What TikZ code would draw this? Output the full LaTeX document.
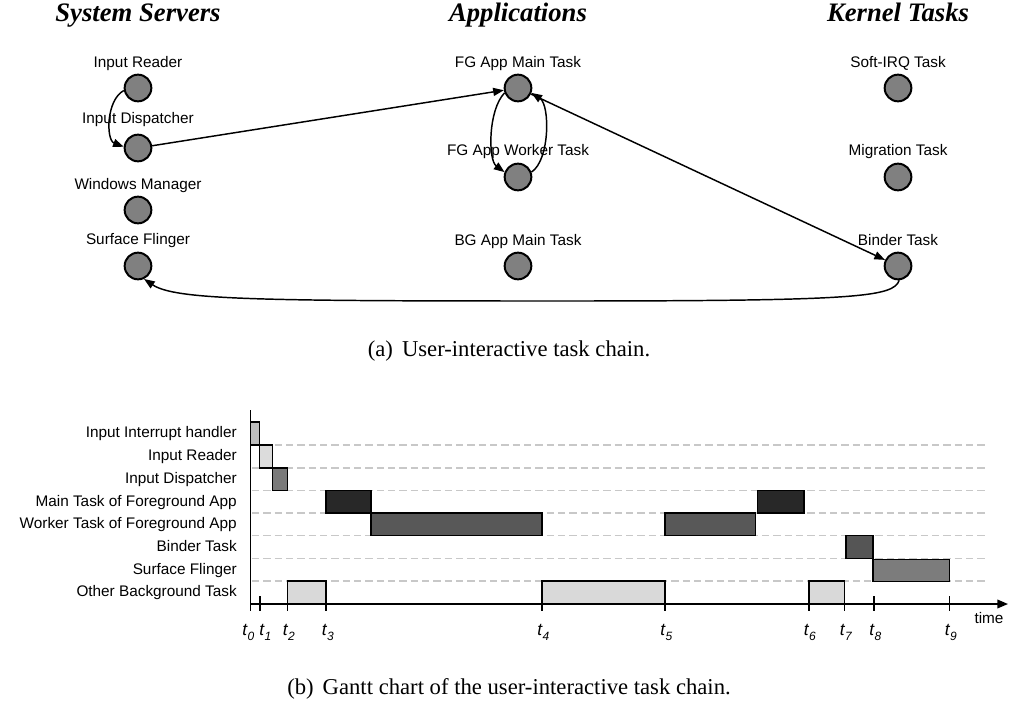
\documentclass[tikz,border=0pt]{standalone}
\usepackage{fontspec}
\setmainfont{Liberation Serif}
\setsansfont{Liberation Sans}
\usetikzlibrary{arrows.meta}

\definecolor{taskgray}{HTML}{808080}
\definecolor{irqfill}{HTML}{BDBDBD}
\definecolor{readerfill}{HTML}{DCDCDC}
\definecolor{dispfill}{HTML}{7A7A7A}
\definecolor{mainfill}{HTML}{282828}
\definecolor{workerfill}{HTML}{585858}
\definecolor{binderfill}{HTML}{555555}
\definecolor{flingerfill}{HTML}{7C7C7C}
\definecolor{bgfill}{HTML}{D9D9D9}
\definecolor{gridgray}{HTML}{C8C8C8}

% time instant label: italic t with a lowered italic index
\newcommand\tinstant[1]{\textit{t}\raisebox{-3.75pt}{\fontsize{9}{10}\selectfont\itshape #1}}

\begin{document}
\begin{tikzpicture}[x=0.75pt,y=-0.75pt,
  taskdot/.style={circle,draw=black,fill=taskgray,line width=1.5pt,minimum size=20pt,inner sep=0pt},
  tasklabel/.style={font=\sffamily\fontsize{11.5}{13}\selectfont,anchor=base,inner sep=0pt},
  grouptitle/.style={font=\bfseries\itshape\fontsize{20}{24}\selectfont,anchor=base,inner sep=0pt},
  capt/.style={font=\fontsize{17}{20}\selectfont,anchor=base,inner sep=0pt},
  flow/.style={line width=1.1pt,-{Triangle[length=8pt,width=6pt]}},
  rowlabel/.style={font=\sffamily\fontsize{11.5}{13}\selectfont,anchor=base east,inner sep=0pt},
  ganttgrid/.style={draw=gridgray,line width=1.1pt,dash pattern=on 5.5pt off 3pt},
  ganttbar/.style={draw=black,line width=1.1pt},
  timeaxis/.style={line width=1.1pt},
  tickmark/.style={line width=1.1pt},
  tmark/.style={font=\sffamily\fontsize{13}{15}\selectfont,anchor=base west,inner sep=0pt},
]
\useasboundingbox (0,0) rectangle (1009,713);

% ---------------- task chain ----------------
\node[grouptitle] (tss)  at (138,22) {System Servers};
\node[grouptitle] (tapp) at (518,22) {Applications};
\node[grouptitle] (tker) at (898,22) {Kernel Tasks};

% system servers
\node[taskdot] (ir) at (138,88) {};
\node[tasklabel] (irl) at (138,68) {Input Reader};
\node[taskdot] (id) at (138,148) {};
\node[tasklabel] (idl) at (138,124) {Input Dispatcher};
\node[taskdot] (wm) at (138,210) {};
\node[tasklabel] (wml) at (138,189) {Windows Manager};
\node[taskdot] (sf) at (138,266) {};
\node[tasklabel] (sfl) at (138,244) {Surface Flinger};

% applications
\node[taskdot] (fgm) at (518,88) {};
\node[tasklabel] (fgml) at (518,68) {FG App Main Task};
\node[taskdot] (fgw) at (518,177) {};
\node[tasklabel] (fgwl) at (518,156) {FG App Worker Task};
\node[taskdot] (bgm) at (518,266) {};
\node[tasklabel] (bgml) at (518,245) {BG App Main Task};

% kernel tasks
\node[taskdot] (irq) at (898,88) {};
\node[tasklabel] (irql) at (898,68) {Soft-IRQ Task};
\node[taskdot] (mig) at (898,177) {};
\node[tasklabel] (migl) at (898,156) {Migration Task};
\node[taskdot] (bt) at (898,266) {};
\node[tasklabel] (btl) at (898,245) {Binder Task};

% chain connectors
\draw[flow] (ir.190) .. controls (106,100) and (106,140) .. (id.175);
\draw[flow] (id) -- (fgm);
\draw[flow] (fgm.200) .. controls (488,110) and (488,160) .. (fgw.160);
\draw[flow] (fgw.20) .. controls (550,160) and (550,105) .. (fgm.340);
\draw[flow] (fgm) -- (bt);
\coordinate (sag) at (560,301);
\draw[flow] (bt.-85) .. controls (893,297) and (860,301) .. (sag)
            .. controls (260,301) and (175,300) .. (sf.-65);

\node[capt] (capa) at (509,356) {(a)\hspace{0.4em}User-interactive task chain.};

% ---------------- Gantt chart ----------------
% row separators
\foreach \y in {445,468,490.5,513,535.5,558.5,581}
  \draw[ganttgrid] (252,\y) -- (987,\y);

% row names
\node[rowlabel] (r1) at (237,437.5) {Input Interrupt handler};
\node[rowlabel] (r2) at (237,460.5) {Input Reader};
\node[rowlabel] (r3) at (237,483.5) {Input Dispatcher};
\node[rowlabel] (r4) at (237,506) {Main Task of Foreground App};
\node[rowlabel] (r5) at (237,528.5) {Worker Task of Foreground App};
\node[rowlabel] (r6) at (237,551) {Binder Task};
\node[rowlabel] (r7) at (237,574) {Surface Flinger};
\node[rowlabel] (r8) at (237,596.5) {Other Background Task};

% execution intervals
\draw[ganttbar,fill=irqfill]     (250.5,422) rectangle (259.5,445);
\draw[ganttbar,fill=readerfill]  (259.5,445) rectangle (272.5,468);
\draw[ganttbar,fill=dispfill]    (272.5,468) rectangle (287.5,490.5);
\draw[ganttbar,fill=bgfill]      (287.5,581) rectangle (326,604);
\draw[ganttbar,fill=mainfill]    (326,490.5) rectangle (371,513);
\draw[ganttbar,fill=workerfill]  (371,513) rectangle (542,535.5);
\draw[ganttbar,fill=bgfill]      (542,581) rectangle (665,604);
\draw[ganttbar,fill=workerfill]  (665,513) rectangle (755.5,535.5);
\draw[ganttbar,fill=mainfill]    (757.5,490.5) rectangle (804,513);
\draw[ganttbar,fill=bgfill]      (809,581) rectangle (844.5,604);
\draw[ganttbar,fill=binderfill]  (846,535.5) rectangle (873,558.5);
\draw[ganttbar,fill=flingerfill] (873,559.5) rectangle (949.5,581.5);

% axes
\coordinate (vtop) at (250.5,410);
\coordinate (vbot) at (250.5,611);
\coordinate (origin) at (250.5,604);
\coordinate (tend) at (1008,604);
\draw[timeaxis] (vtop) -- (vbot);
\draw[timeaxis,-{Triangle[length=8pt,width=6.5pt]}] (origin) -- (tend);
\node[font=\sffamily\fontsize{11.5}{13}\selectfont,anchor=base,inner sep=0pt] (timel) at (989,623) {time};

% instants
\foreach \x in {260,287.5,326,542,665,809,844.5,874,949.5}
  \draw[tickmark] (\x,596) -- (\x,611);

\node[tmark] (t0) at (242,635) {\tinstant{0}};
\node[tmark] (t1) at (259,635) {\tinstant{1}};
\node[tmark] (t2) at (282.5,635) {\tinstant{2}};
\node[tmark] (t3) at (321.5,635) {\tinstant{3}};
\node[tmark] (t4) at (537,635) {\tinstant{4}};
\node[tmark] (t5) at (660,635) {\tinstant{5}};
\node[tmark] (t6) at (803.5,635) {\tinstant{6}};
\node[tmark] (t7) at (839.5,635) {\tinstant{7}};
\node[tmark] (t8) at (869,635) {\tinstant{8}};
\node[tmark] (t9) at (944.5,635) {\tinstant{9}};

\node[capt] (capb) at (509,694) {(b)\hspace{0.4em}Gantt chart of the user-interactive task chain.};
\end{tikzpicture}
\end{document}
